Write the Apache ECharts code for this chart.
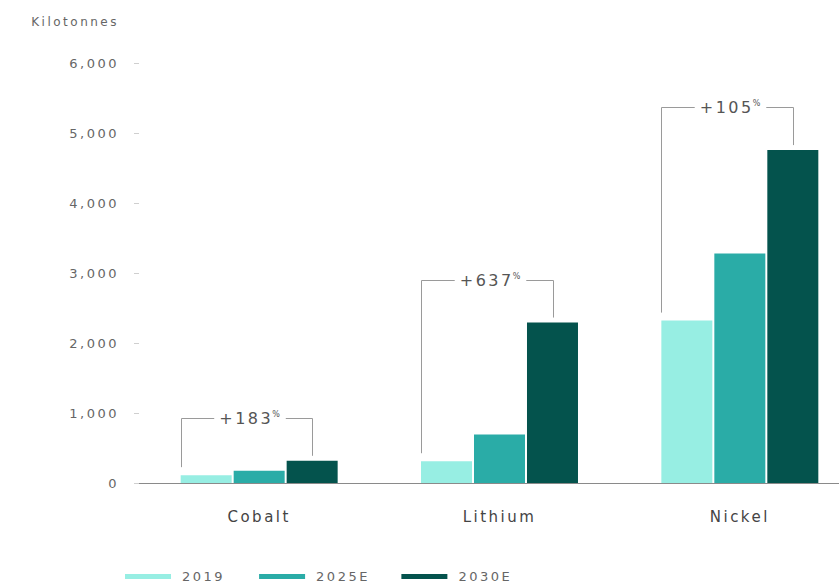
<!DOCTYPE html>
<html>
<head>
<meta charset="utf-8">
<script src="https://cdn.jsdelivr.net/npm/echarts@6/dist/echarts.min.js"></script>
<style>
  html, body { margin: 0; padding: 0; background: #fff; overflow: hidden; }
  /* the plot runs past the right edge of the page, as the last group is cut off */
  #chart { width: 860px; height: 585px; }
  #chart text { letter-spacing: 2.5px; }
</style>
</head>
<body>
<div id="chart"></div>
<script>
// Battery metal demand, kilotonnes
const categories = ['Cobalt', 'Lithium', 'Nickel'];
const seriesNames = ['2019', '2025E', '2030E'];
const values2019 = [112, 311, 2320];
const values2025 = [175, 694, 3280];
const values2030 = [317, 2292, 4756];
const yTicks = [0, 1000, 2000, 3000, 4000, 5000, 6000];

const colors = ['#97eee3', '#2aaca7', '#04534d'];
const FONT = 'DejaVu Sans';
const LETTER_SPACING = 2.5;
const BAR_W = 51;
const BAR_GAP = 2;

// text measuring, including the letter spacing set in the stylesheet
const measureCtx = document.createElement('canvas').getContext('2d');
function advance(str, size) {
  measureCtx.font = size + 'px "' + FONT + '"';
  return measureCtx.measureText(str).width + str.length * LETTER_SPACING;
}

// Growth brackets: category index, 2019 value, 2030E value
const bracketData = categories.map((c, i) => [i, values2019[i], values2030[i]]);

function renderBracket(params, api) {
  const idx = api.value(0);
  const v0 = api.value(1);
  const v1 = api.value(2);
  const cx = api.coord([idx, 0])[0];
  const leftX = Math.round(cx - 1.5 * BAR_W - BAR_GAP) + 0.5;
  const rightX = Math.round(cx + BAR_W + BAR_GAP) + 0.5;
  const y0 = api.coord([idx, v0])[1];
  const y1 = api.coord([idx, v1])[1];
  const topY = Math.round(y1 - 43) + 0.5;
  const pct = Math.round((v1 / v0 - 1) * 100);

  const numText = '+' + pct;
  const numW = advance(numText, 16);
  const pctW = advance('%', 8) - LETTER_SPACING;
  const total = numW + pctW;
  const tx = (leftX + rightX) / 2 + 3 - total / 2;

  const lineStyle = { stroke: '#9a9a9a', lineWidth: 1, fill: null };
  return {
    type: 'group',
    children: [
      { type: 'polyline', shape: { points: [[leftX, y0 - 8], [leftX, topY], [tx - 5, topY]] }, style: lineStyle },
      { type: 'polyline', shape: { points: [[tx + total + 5, topY], [rightX, topY], [rightX, y1 - 5]] }, style: lineStyle },
      {
        type: 'text', x: tx, y: topY,
        style: { text: numText, fontFamily: FONT, fontSize: 16, fill: '#555', align: 'left', verticalAlign: 'middle' }
      },
      {
        type: 'text', x: tx + numW - 1, y: topY - 4,
        style: { text: '%', fontFamily: FONT, fontSize: 8, fill: '#555', align: 'left', verticalAlign: 'middle' }
      }
    ]
  };
}

const chart = echarts.init(document.getElementById('chart'), null, { renderer: 'svg' });

const barSeries = [values2019, values2025, values2030].map((vals, i) => ({
  name: seriesNames[i],
  type: 'bar',
  data: vals,
  barWidth: BAR_W,
  barGap: (BAR_GAP / BAR_W * 100).toFixed(1) + '%',
  itemStyle: { color: colors[i] },
  silent: true
}));

chart.setOption({
  animation: false,
  color: colors,
  textStyle: { fontFamily: FONT },
  grid: { left: 139, right: 0, top: 63, bottom: 102 },
  legend: {
    data: seriesNames,
    left: 125,
    top: 570,
    padding: 0,
    icon: 'rect',
    itemWidth: 46,
    itemHeight: 5,
    itemGap: 44,
    textStyle: { fontFamily: FONT, fontSize: 13, color: '#666', padding: [0, 0, 0, 6] }
  },
  xAxis: {
    type: 'category',
    data: categories,
    axisLine: { lineStyle: { color: '#8a8a8a', width: 1 } },
    axisTick: { show: false },
    axisLabel: { fontFamily: FONT, fontSize: 15, color: '#444', margin: 26 }
  },
  yAxis: {
    type: 'value',
    min: yTicks[0],
    max: yTicks[yTicks.length - 1],
    interval: 1000,
    name: 'Kilotonnes',
    nameLocation: 'end',
    nameGap: 35,
    nameTextStyle: { fontFamily: FONT, fontSize: 12, color: '#666', align: 'right', padding: [0, 20, 0, 0] },
    axisLine: { show: false },
    axisTick: { show: true, length: 5, lineStyle: { color: '#cfcfcf' } },
    splitLine: { show: false },
    axisLabel: {
      fontFamily: FONT, fontSize: 13, color: '#666', margin: 20,
      formatter: v => v.toLocaleString('en-US')
    }
  },
  series: barSeries.concat([{
    type: 'custom',
    name: 'growth',
    data: bracketData,
    renderItem: renderBracket,
    silent: true,
    z: 5
  }])
});
</script>
</body>
</html>
